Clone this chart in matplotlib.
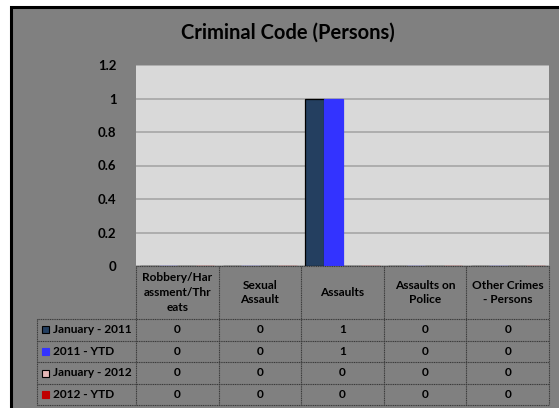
import matplotlib.pyplot as plt
from matplotlib.patches import Rectangle
import numpy as np

plt.rcParams['font.family'] = ['Lato', 'DejaVu Sans']
plt.rcParams['font.weight'] = 'bold'

categories = ['Robbery/Har\nassment/Thr\neats', 'Sexual\nAssault', 'Assaults',
              'Assaults on\nPolice', 'Other Crimes\n- Persons']
series = ['January - 2011', '2011 - YTD', 'January - 2012', '2012 - YTD']
jan_2011 = [0, 0, 1, 0, 0]
ytd_2011 = [0, 0, 1, 0, 0]
jan_2012 = [0, 0, 0, 0, 0]
ytd_2012 = [0, 0, 0, 0, 0]
values = [jan_2011, ytd_2011, jan_2012, ytd_2012]
colors = ['#243f60', '#3333ff', '#e6b8b7', '#c00000']
edges = ['black', '#3333ff', 'black', '#c00000']
yticks = [0, 0.2, 0.4, 0.6, 0.8, 1, 1.2]

W, H = 559, 408
fig = plt.figure(figsize=(W / 100, H / 100), dpi=100)
fig.patch.set_facecolor('white')


def fx(px):
    return px / W


def fy(py):
    return 1 - py / H


# grey chart frame, running off the right and bottom edges
fig.patches.append(Rectangle((fx(11), fy(450)), fx(620) - fx(11), fy(7) - fy(450),
                             transform=fig.transFigure, facecolor='#808080',
                             edgecolor='black', linewidth=2.2, zorder=-5))

left, right, top, bottom = 136, 549, 65, 266
ax = fig.add_axes([fx(left), fy(bottom), fx(right) - fx(left), fy(top) - fy(bottom)])
ax.set_facecolor('#d9d9d9')

n = len(categories)
x = np.arange(n)
bw = 0.224
for i, (vals, c, e) in enumerate(zip(values, colors, edges)):
    ax.bar(x + (i - 1.5) * bw, vals, bw, color=c, edgecolor=e, linewidth=0.9, zorder=3)

ax.set_xlim(-0.5, n - 0.5)
ax.set_ylim(0, 1.2)
ax.set_yticks(yticks)
ax.set_yticklabels(['0', '0.2', '0.4', '0.6', '0.8', '1', '1.2'], fontsize=9.5, fontweight='bold')
ax.tick_params(axis='y', length=0, pad=14)
ax.set_xticks([])
ax.yaxis.grid(True, color='#a6a6a6', linewidth=1.2)
ax.set_axisbelow(True)
for s in ax.spines.values():
    s.set_visible(False)

fig.text(fx(288), fy(33), 'Criminal Code (Persons)', ha='center', va='center',
         fontsize=14.5, fontweight='bold')

# data table under the plot
col_edges = [left + (right - left) * k / n for k in range(n + 1)]
leg_left = 37
header_bot = 319
row_h = 21.6
row_edges = [header_bot + row_h * k for k in range(len(series) + 1)]
line_kw = dict(color='#3a3a3a', linewidth=0.8, linestyle=(0, (1, 0.6)),
               transform=fig.transFigure)

for cx in col_edges:
    fig.add_artist(plt.Line2D([fx(cx), fx(cx)], [fy(bottom), fy(row_edges[-1])], **line_kw))
fig.add_artist(plt.Line2D([fx(leg_left), fx(leg_left)], [fy(header_bot), fy(row_edges[-1])], **line_kw))
fig.add_artist(plt.Line2D([fx(left), fx(right)], [fy(bottom), fy(bottom)], **line_kw))
for ry in row_edges:
    fig.add_artist(plt.Line2D([fx(leg_left), fx(right)], [fy(ry), fy(ry)], **line_kw))

for k, cat in enumerate(categories):
    cx = (col_edges[k] + col_edges[k + 1]) / 2
    fig.text(fx(cx), fy((bottom + header_bot) / 2), cat, ha='center', va='center',
             fontsize=8.6, fontweight='bold', linespacing=1.4)

for r, (name, vals, c, e) in enumerate(zip(series, values, colors, edges)):
    cy = (row_edges[r] + row_edges[r + 1]) / 2
    fig.patches.append(Rectangle((fx(42), fy(cy + 3.5)), fx(7), fx(7) * W / H,
                                 transform=fig.transFigure, facecolor=c,
                                 edgecolor=e, linewidth=0.8))
    fig.text(fx(53), fy(cy), name, ha='left', va='center', fontsize=8.6, fontweight='bold')
    for k, v in enumerate(vals):
        cx = (col_edges[k] + col_edges[k + 1]) / 2
        fig.text(fx(cx), fy(cy), str(v), ha='center', va='center', fontsize=8.6,
                 fontweight='bold')

fig.savefig('out.png', dpi=100)
